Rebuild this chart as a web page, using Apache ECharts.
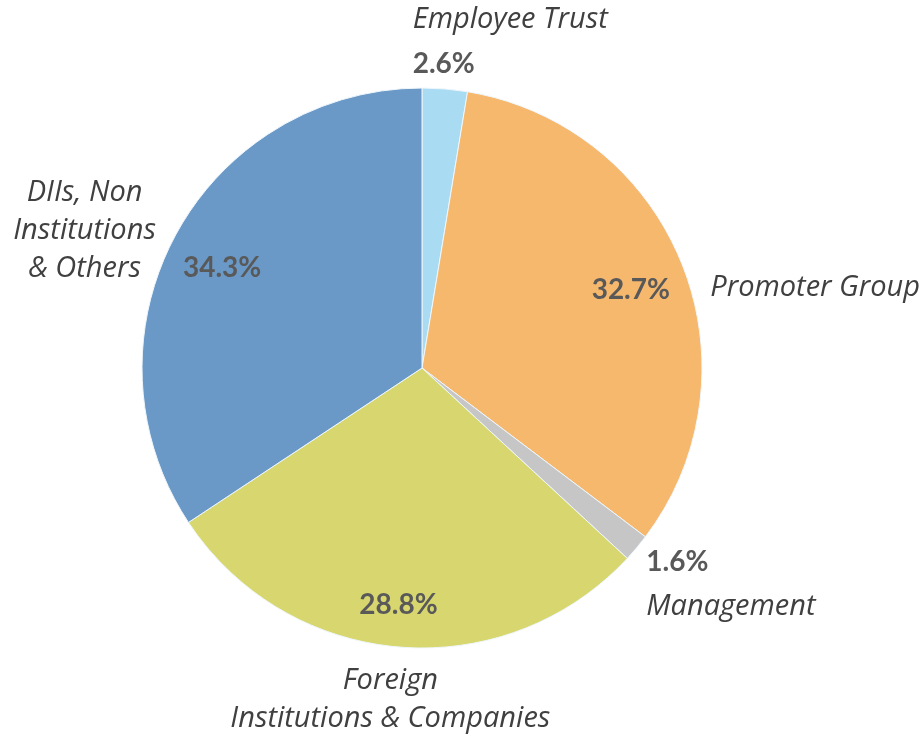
<!DOCTYPE html>
<html>
<head>
<meta charset="utf-8">
<title>Shareholding pattern</title>
<script src="https://cdn.jsdelivr.net/npm/echarts@6/dist/echarts.min.js"></script>
<style>
    html, body {margin: 0; padding: 0; background: #fff;}
    #chart {width: 922px; height: 737px;}
</style>
</head>
<body>
<div id="chart"></div>
<script>

    // 股权结构, 顺时针从 12 点开始
    var categories = [
        'Employee Trust',
        'Promoter Group',
        'Management',
        'Foreign\nInstitutions & Companies',
        'DIIs, Non\nInstitutions\n& Others'
    ];
    var shares = [2.6, 32.7, 1.6, 28.8, 34.3];
    var colors = ['#a9dcf3', '#f6b86d', '#c6c6c6', '#d8d76f', '#6a99c7'];

    // 小扇区的百分比跟名称放在一起, 大扇区的放在扇区里
    var pctInside = [false, true, false, true, true];
    var pctFirst = [false, true, true, true, true];

    // 名称标签相对默认外部位置的微调
    var nameShift = [
        {dx: -38, dy: -34},
        {dx: 14, dy: 27},
        {dx: -3, dy: 27},
        {dx: -3, dy: 43, align: 'center'},
        {dx: -77, dy: 0, align: 'center'}
    ];

    // 扇区内百分比的微调
    var pctShift = [
        {dx: 0, dy: 0},
        {dx: -2, dy: 6},
        {dx: 0, dy: 0},
        {dx: -5, dy: 11},
        {dx: 0, dy: 7}
    ];

    var nameFont = '"Open Sans", Lato, sans-serif';
    var pctFont = 'Lato, "Open Sans", sans-serif';
    var center = [422, 368];
    var R = 280;

    var chart = echarts.init(document.getElementById('chart'), null, {renderer: 'canvas'});

    function pct(v) {
        return v.toFixed(1) + '%';
    }

    var fillData = shares.map(function (v, i) {
        return {
            name: categories[i],
            value: v,
            itemStyle: {color: colors[i]}
        };
    });

    var pctData = shares.map(function (v, i) {
        return {
            name: categories[i],
            value: v,
            label: {show: pctInside[i]}
        };
    });

    var nameData = shares.map(function (v, i) {
        var text = '{n|' + categories[i].split('\n').join('}\n{n|') + '}';
        if (!pctInside[i]) {
            text = pctFirst[i] ? '{p|' + pct(v) + '}\n' + text : text + '\n{p|' + pct(v) + '}';
        }
        return {
            name: categories[i],
            value: v,
            label: {formatter: text}
        };
    });

    var option = {
        animation: false,
        series: [
            {
                type: 'pie',
                center: center,
                radius: [0, R],
                startAngle: 90,
                clockwise: true,
                silent: true,
                label: {show: false},
                labelLine: {show: false},
                itemStyle: {borderColor: '#eef6fb', borderWidth: 1},
                data: fillData
            },
            {
                type: 'pie',
                center: center,
                radius: [R * 0.6, R],
                startAngle: 90,
                clockwise: true,
                silent: true,
                itemStyle: {color: 'rgba(0,0,0,0)'},
                label: {
                    position: 'inside',
                    formatter: function (p) {
                        return pct(p.value);
                    },
                    color: '#595959',
                    fontFamily: pctFont,
                    fontWeight: 'bold',
                    fontSize: 28
                },
                labelLine: {show: false},
                labelLayout: function (params) {
                    return pctShift[params.dataIndex];
                },
                data: pctData
            },
            {
                type: 'pie',
                center: center,
                radius: [0, R],
                startAngle: 90,
                clockwise: true,
                silent: true,
                avoidLabelOverlap: false,
                itemStyle: {color: 'rgba(0,0,0,0)'},
                label: {
                    position: 'outside',
                    rich: {
                        n: {
                            color: '#404040',
                            fontFamily: nameFont,
                            fontStyle: 'italic',
                            fontSize: 29,
                            lineHeight: 38
                        },
                        p: {
                            color: '#595959',
                            fontFamily: pctFont,
                            fontWeight: 'bold',
                            fontSize: 28,
                            lineHeight: 50
                        }
                    }
                },
                labelLine: {show: false, length: 10, length2: 0},
                labelLayout: function (params) {
                    var s = nameShift[params.dataIndex];
                    var out = {dx: s.dx, dy: s.dy};
                    if (s.align) {
                        out.align = s.align;
                    }
                    return out;
                },
                data: nameData
            }
        ]
    };

    chart.setOption(option);

</script>
</body>
</html>
